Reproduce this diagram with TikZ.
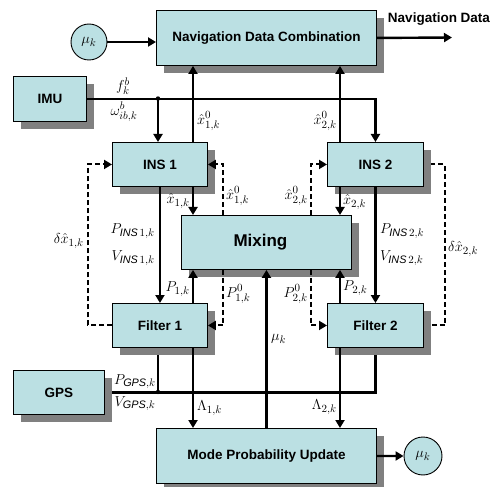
\documentclass[tikz,border=0pt]{standalone}
\usepackage{fontspec}
\setmainfont{Liberation Sans}
\usetikzlibrary{arrows.meta,shadows}
\definecolor{boxc}{RGB}{187,224,227}
\pgfdeclarelayer{background}
\pgfsetlayers{background,main}
\tikzset{
  box/.style={draw=black, line width=0.9pt, fill=boxc, anchor=north west, inner sep=0pt,
    font=\bfseries\fontsize{13.5}{15}\selectfont,
    drop shadow={shadow xshift=8pt, shadow yshift=-8pt, fill=gray, opacity=1}},
  circ/.style={circle, draw=black, line width=0.9pt, fill=boxc, minimum size=36pt, inner sep=0pt,
    font=\fontsize{15}{17}\selectfont},
  solidline/.style={line width=2.4pt},
  arr/.style={line width=2.4pt, -{Triangle[length=8pt,width=9pt]}},
  darr/.style={line width=2pt, dash pattern=on 5pt off 3pt, -{Triangle[length=8pt,width=9pt]}},
  dline/.style={line width=2pt, dash pattern=on 5pt off 3pt},
  lab/.style={inner sep=0pt, font=\fontsize{15.5}{17}\selectfont},
  plain/.style={inner sep=0pt, font=\bfseries\fontsize{13.5}{15}\selectfont}
}
\begin{document}
\begin{tikzpicture}[x=1pt,y=-1pt]
\useasboundingbox (0,0) rectangle (499,487);
% boxes
\node[box, minimum width=220pt, minimum height=55pt] (nav) at (156,10) {Navigation Data Combination};
\node[box, minimum width=73pt, minimum height=45pt] (imu) at (13,76) {IMU};
\node[box, minimum width=95pt, minimum height=44pt] (ins1) at (112,142) {INS 1};
\node[box, minimum width=96pt, minimum height=44pt] (ins2) at (327,142) {INS 2};
\node[box, minimum width=170pt, minimum height=54pt, font=\bfseries\fontsize{17}{19}\selectfont] (mix) at (181,215) {\hspace*{-12pt}Mixing};
\node[box, minimum width=95pt, minimum height=44pt] (f1) at (112,303) {Filter 1};
\node[box, minimum width=96pt, minimum height=44pt] (f2) at (327,303) {Filter 2};
\node[box, minimum width=91pt, minimum height=44pt] (gps) at (13,370) {GPS};
\node[box, minimum width=220pt, minimum height=55pt] (mode) at (156,428) {Mode Probability Update};
\node[circ] (mu1) at (89,42) {$\mu_k$};
\node[circ, minimum size=38pt] (mu2) at (423,456) {$\mu_k$};
% columns
\coordinate (ca) at (193,0);
\coordinate (cb) at (340,0);
\coordinate (da) at (223,0);
\coordinate (db) at (311,0);
\coordinate (cl) at (88,0);
\coordinate (cr) at (445,0);
\coordinate (j1) at (158,98.5);
\coordinate (j2) at (158,392);
\coordinate (out) at (452,37.5);
% top
\draw[arr] (mu1.east) -- (mu1.east -| nav.west);
\draw[arr] (nav.east) -- (out);
\node[plain] (navtxt) at (439,19) {Navigation Data};
% IMU
\draw[arr] (imu.east) -| (ins2.north);
\draw[arr] (j1) -- (j1 |- ins1.north);
\fill (j1) circle (2.2pt);
\node[lab, anchor=south] (lf) at (123,95) {$f_k^b$};
\node[lab, anchor=north] (lw) at (124,102) {$\omega_{ib,k}^b$};
% to nav
\draw[arr] (ins1.north -| ca) -- (nav.south -| ca);
\draw[arr] (ins2.north -| cb) -- (nav.south -| cb);
\node[lab, anchor=west] (l1) at (197,121) {$\hat{x}_{1,k}^0$};
\node[lab, anchor=east] (l2) at (337,121) {$\hat{x}_{2,k}^0$};
% INS to filter
\draw[arr] (ins1.south) -- (f1.north);
\draw[arr] (ins2.south) -- (f2.north);
\node[lab, anchor=east] (l3) at (155,231) {$P_{\mathit{INS}\,1,k}$};
\node[lab, anchor=east] (l4) at (155,258) {$V_{\mathit{INS}\,1,k}$};
\node[lab, anchor=west] (l5) at (380,231) {$P_{\mathit{INS}\,2,k}$};
\node[lab, anchor=west] (l6) at (380,258) {$V_{\mathit{INS}\,2,k}$};
% INS / mixing
\draw[arr] (ins1.south -| ca) -- (mix.north -| ca);
\draw[arr] (ins2.south -| cb) -- (mix.north -| cb);
\draw[darr] (mix.north -| da) |- (ins1.east);
\draw[darr] (mix.north -| db) |- (ins2.west);
\node[lab, anchor=east] (l7) at (190,201) {$\hat{x}_{1,k}$};
\node[lab, anchor=west] (l8) at (226,196) {$\hat{x}_{1,k}^0$};
\node[lab, anchor=east] (l9) at (308,196) {$\hat{x}_{2,k}^0$};
\node[lab, anchor=west] (l10) at (343,202) {$\hat{x}_{2,k}$};
% filter / mixing
\draw[arr] (f1.north -| ca) -- (mix.south -| ca);
\draw[arr] (f2.north -| cb) -- (mix.south -| cb);
\draw[darr] (mix.south -| da) |- (f1.east);
\draw[darr] (mix.south -| db) |- (f2.west);
\node[lab, anchor=east] (l11) at (190,289) {$P_{1,k}$};
\node[lab, anchor=west] (l12) at (226,294) {$P_{1,k}^0$};
\node[lab, anchor=east] (l13) at (308,294) {$P_{2,k}^0$};
\node[lab, anchor=west] (l14) at (343,288) {$P_{2,k}$};
% loops
\draw[darr] (f1.west) -- (f1.west -| cl) -- (ins1.west -| cl) -- (ins1.west);
\node[lab, anchor=east] (l15) at (84,241) {$\delta\hat{x}_{1,k}$};
\node[lab, anchor=west] (l16) at (448,249) {$\delta\hat{x}_{2,k}$};
% mode
\draw[arr] (mode.north) -- (mix.south);
\node[lab, anchor=west] (l17) at (271,339) {$\mu_k$};
\draw[arr] (f1.south -| ca) -- (mode.north -| ca);
\draw[arr] (f2.south -| cb) -- (mode.north -| cb);
\node[lab, anchor=west] (l18) at (197,408) {$\Lambda_{1,k}$};
\node[lab, anchor=east] (l19) at (337,407) {$\Lambda_{2,k}$};
\draw[arr] (mode.east) -- (mu2.west);
% GPS
\node[lab, anchor=south] (l20) at (135,389) {$P_{\mathit{GPS},k}$};
\node[lab, anchor=north] (l21) at (135,396) {$V_{\mathit{GPS},k}$};
\fill (j2) circle (2.2pt);
\begin{pgfonlayer}{background}
\draw[dline] (f2.east) -- (f2.east -| cr) -- (ins2.east -| cr) -- (ins2.east);
\draw[solidline] (gps.east) -| (f2.south);
\draw[solidline] (j2) -- (j2 |- f1.south);
\end{pgfonlayer}
\end{tikzpicture}
\end{document}
